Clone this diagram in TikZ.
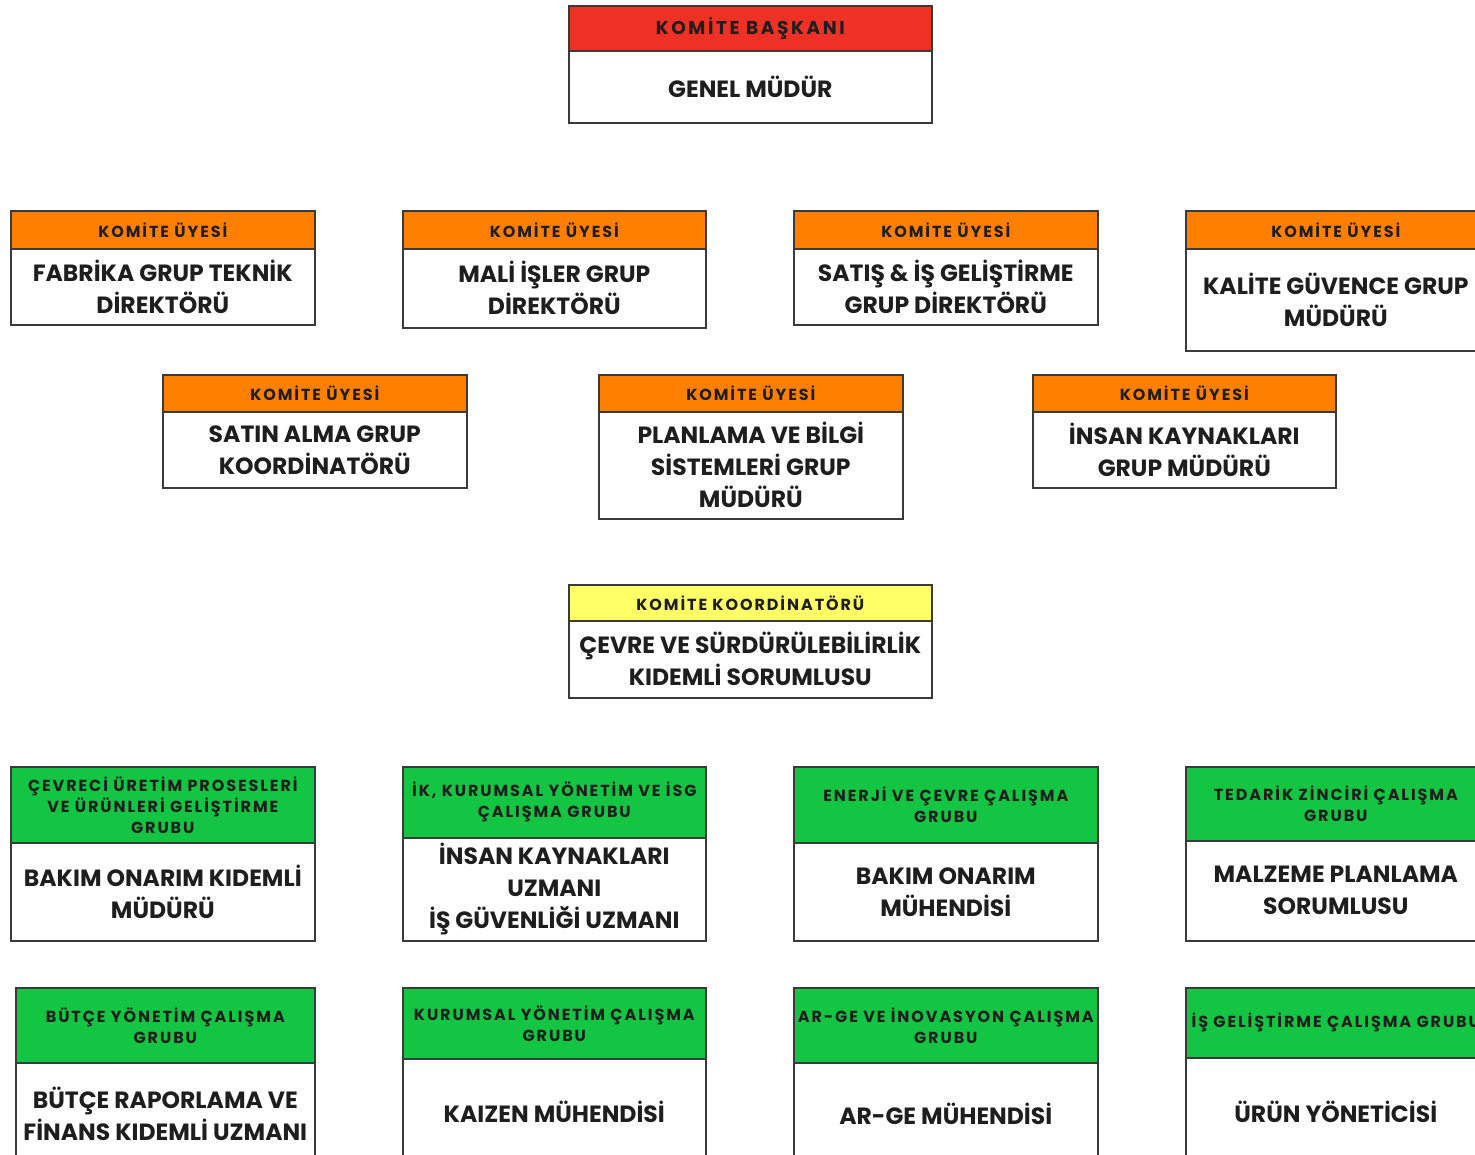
\documentclass[tikz,border=0pt]{standalone}
\usepackage{fontspec}
\setmainfont{Poppins}
\definecolor{bordc}{HTML}{3A3A3A}
\definecolor{txtc}{HTML}{1E1E1E}
\definecolor{hred}{HTML}{EE3124}
\definecolor{horange}{HTML}{FF8000}
\definecolor{hyellow}{HTML}{FFFF66}
\definecolor{hgreen}{HTML}{14C443}
\newcommand\hdrfont{\fontsize{16}{21}\selectfont\bfseries\addfontfeatures{LetterSpace=12}}
\newcommand\topfont{\fontsize{18.5}{24}\selectfont\bfseries\addfontfeatures{LetterSpace=14}}
\newcommand\bodyfont{\fontsize{23.5}{32}\selectfont\bfseries}
\tikzset{
  boxbase/.style={draw=bordc, line width=1.6pt, anchor=north west, inner sep=0pt, align=center, text=txtc},
  hdr/.style={boxbase, font=\hdrfont},
  bdy/.style={boxbase, fill=white, font=\bodyfont},
}
% \orgbox{name}{x1}{x2}{yh1}{yh2}{yb2}{fill}{header}{body}
\newcommand\orgbox[9]{%
  \pgfmathsetmacro\bw{#3-#2}%
  \pgfmathsetmacro\hh{#5-#4}%
  \pgfmathsetmacro\bh{#6-#5}%
  \node[bdy, minimum width=\bw pt, minimum height=\bh pt] (#1b) at (#2,#5) {#9};
  \node[hdr, fill=#7, minimum width=\bw pt, minimum height=\hh pt] (#1h) at (#2,#4) {#8};
}
\begin{document}
\begin{tikzpicture}[x=1pt,y=-1pt]
\useasboundingbox (0,0) rectangle (1475,1155);
\fill[white] (0,0) rectangle (1475,1155);
% top
\node[bdy, minimum width=363pt, minimum height=72pt] (topb) at (568,50) {GENEL MÜDÜR};
\node[boxbase, font=\topfont, fill=hred, minimum width=363pt, minimum height=45pt] (toph) at (568,5) {KOMİTE BAŞKANI};
% row 1
\orgbox{bA}{10}{314}{210}{248}{324}{horange}{KOMİTE ÜYESİ}{FABRİKA GRUP TEKNİK\\DİREKTÖRÜ}
\orgbox{bB}{402}{705}{210}{248}{327}{horange}{KOMİTE ÜYESİ}{MALİ İŞLER GRUP\\DİREKTÖRÜ}
\orgbox{bC}{793}{1097}{210}{248}{324}{horange}{KOMİTE ÜYESİ}{SATIŞ \& İŞ GELİŞTİRME\\GRUP DİREKTÖRÜ}
\orgbox{bD}{1185}{1485}{210}{248}{350}{horange}{KOMİTE ÜYESİ}{KALİTE GÜVENCE GRUP\\MÜDÜRÜ}
% row 2
\orgbox{bE}{162}{466}{374}{411}{487}{horange}{KOMİTE ÜYESİ}{SATIN ALMA GRUP\\KOORDİNATÖRÜ}
\orgbox{bF}{598}{902}{374}{411}{518}{horange}{KOMİTE ÜYESİ}{PLANLAMA VE BİLGİ\\SİSTEMLERİ GRUP\\MÜDÜRÜ}
\orgbox{bG}{1032}{1335}{374}{411}{487}{horange}{KOMİTE ÜYESİ}{İNSAN KAYNAKLARI\\GRUP MÜDÜRÜ}
% coordinator
\orgbox{kc}{568}{931}{584}{620}{697}{hyellow}{KOMİTE KOORDİNATÖRÜ}{ÇEVRE VE SÜRDÜRÜLEBİLİRLİK\\KIDEMLİ SORUMLUSU}
% green row 1
\orgbox{gA}{10}{314}{766}{842}{940}{hgreen}{ÇEVRECİ ÜRETİM PROSESLERİ\\VE ÜRÜNLERİ GELİŞTİRME\\GRUBU}{BAKIM ONARIM KIDEMLİ\\MÜDÜRÜ}
\orgbox{gB}{402}{705}{766}{837}{940}{hgreen}{İK, KURUMSAL YÖNETİM VE İSG\\ÇALIŞMA GRUBU}{İNSAN KAYNAKLARI\\UZMANI\\İŞ GÜVENLİĞİ UZMANI}
\orgbox{gC}{793}{1097}{766}{842}{940}{hgreen}{ENERJİ VE ÇEVRE ÇALIŞMA\\GRUBU}{BAKIM ONARIM\\MÜHENDİSİ}
\orgbox{gD}{1185}{1485}{766}{840}{940}{hgreen}{TEDARİK ZİNCİRİ ÇALIŞMA\\GRUBU}{MALZEME PLANLAMA\\SORUMLUSU}
% green row 2
\orgbox{gE}{15}{314}{987}{1062}{1165}{hgreen}{BÜTÇE YÖNETİM ÇALIŞMA\\GRUBU}{BÜTÇE RAPORLAMA VE\\FİNANS KIDEMLİ UZMANI}
\orgbox{gF}{402}{705}{987}{1058}{1165}{hgreen}{KURUMSAL YÖNETİM ÇALIŞMA\\GRUBU}{KAIZEN MÜHENDİSİ}
\orgbox{gG}{793}{1097}{987}{1062}{1165}{hgreen}{AR-GE VE İNOVASYON ÇALIŞMA\\GRUBU}{AR-GE MÜHENDİSİ}
\orgbox{gH}{1185}{1485}{987}{1057}{1165}{hgreen}{İŞ GELİŞTİRME ÇALIŞMA GRUBU}{ÜRÜN YÖNETİCİSİ}
\end{tikzpicture}
\end{document}
